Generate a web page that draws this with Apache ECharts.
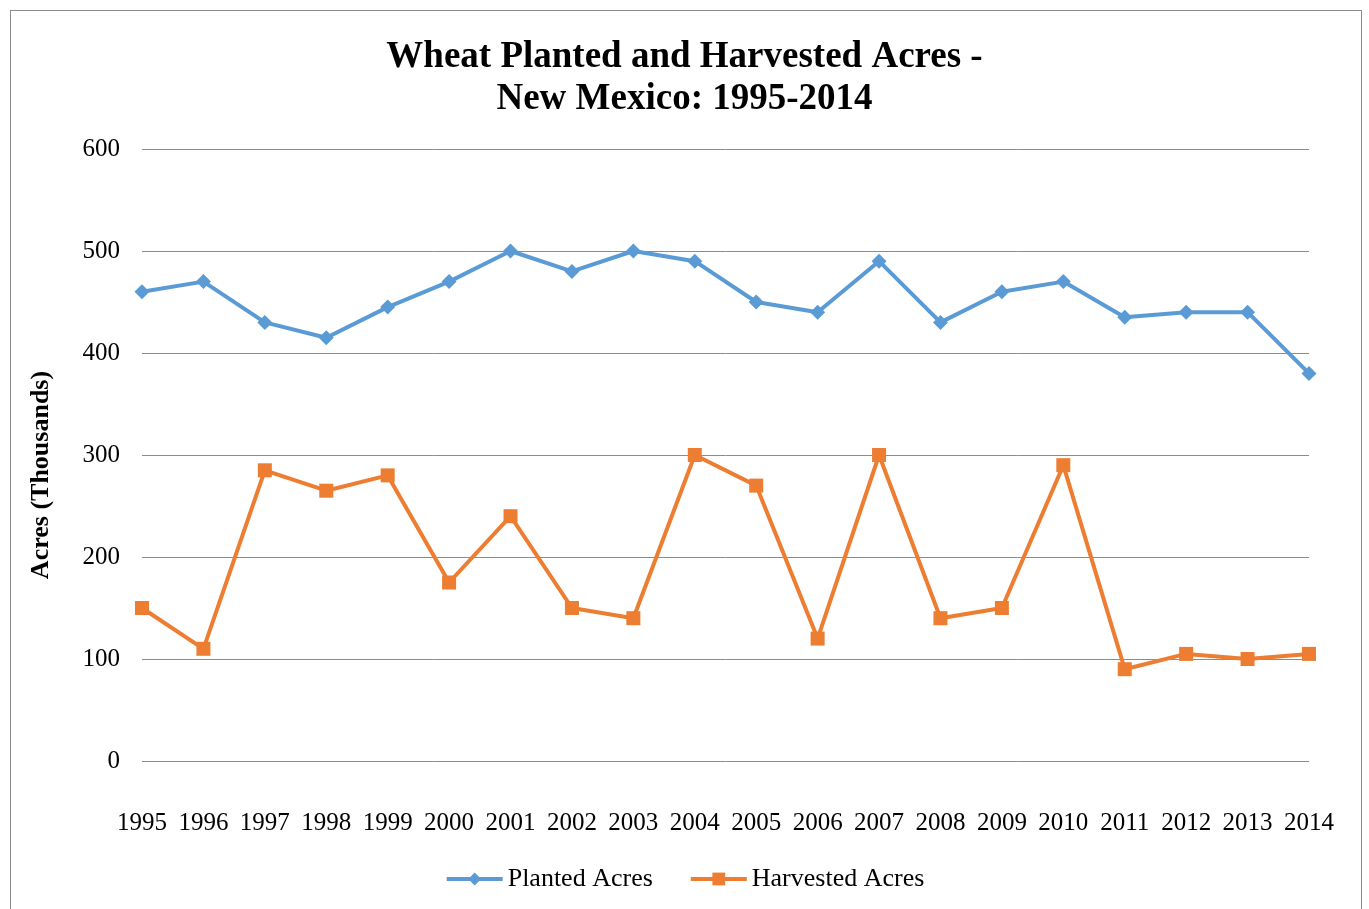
<!DOCTYPE html>
<html>
<head>
<meta charset="utf-8">
<script src="https://cdn.jsdelivr.net/npm/echarts@6/dist/echarts.min.js"></script>
<style>
    html, body { margin: 0; padding: 0; background: #fff; }
    #chart { width: 1369px; height: 909px; }
    .frame {
        position: absolute; left: 10px; top: 10px; width: 1352px; height: 910px;
        border: 1px solid #8c8c8c; box-sizing: border-box; pointer-events: none;
    }
</style>
</head>
<body>
<div id="chart"></div>
<div class="frame"></div>
<script>
const years = ["1995", "1996", "1997", "1998", "1999", "2000", "2001", "2002", "2003", "2004",
    "2005", "2006", "2007", "2008", "2009", "2010", "2011", "2012", "2013", "2014"];
const planted = [460, 470, 430, 415, 445, 470, 500, 480, 500, 490,
    450, 440, 490, 430, 460, 470, 435, 440, 440, 380];
const harvested = [150, 110, 285, 265, 280, 175, 240, 150, 140, 300,
    270, 120, 300, 140, 150, 290, 90, 105, 100, 105];

const font = "'Liberation Serif', 'Times New Roman', serif";

const chart = echarts.init(document.getElementById("chart"));

chart.setOption({
    animation: false,
    title: {
        text: "Wheat Planted and Harvested Acres -\nNew Mexico: 1995-2014",
        left: "center",
        top: 31,
        textStyle: {
            fontFamily: font,
            fontSize: 37,
            fontWeight: "bold",
            color: "#000",
            lineHeight: 42
        }
    },
    legend: {
        bottom: 12,
        left: "center",
        itemWidth: 56,
        itemHeight: 16,
        itemGap: 36,
        lineStyle: { width: 4 },
        textStyle: { fontFamily: font, fontSize: 26, color: "#000" },
        data: ["Planted Acres", "Harvested Acres"]
    },
    grid: {
        left: 142,
        right: 60,
        top: 149,
        bottom: 148
    },
    xAxis: {
        type: "category",
        data: years,
        boundaryGap: false,
        axisLine: { show: false },
        axisTick: { show: false },
        axisLabel: {
            fontFamily: font,
            fontSize: 25,
            color: "#000",
            margin: 50,
            interval: 0
        }
    },
    yAxis: {
        type: "value",
        min: 0,
        max: 600,
        interval: 100,
        name: "Acres (Thousands)",
        nameLocation: "middle",
        nameGap: 88,
        nameTextStyle: {
            fontFamily: font,
            fontSize: 26,
            fontWeight: "bold",
            color: "#000",
            padding: [0, 40, 0, 0]
        },
        axisLine: { show: false },
        axisTick: { show: false },
        axisLabel: {
            fontFamily: font,
            fontSize: 25,
            color: "#000",
            margin: 22
        },
        splitLine: { lineStyle: { color: "#8c8c8c", width: 1 } }
    },
    series: [
        {
            name: "Planted Acres",
            type: "line",
            data: planted,
            symbol: "diamond",
            symbolSize: 15,
            itemStyle: { color: "#5b9bd5" },
            lineStyle: { color: "#5b9bd5", width: 4 }
        },
        {
            name: "Harvested Acres",
            type: "line",
            data: harvested,
            symbol: "rect",
            symbolSize: 14,
            itemStyle: { color: "#ed7d31" },
            lineStyle: { color: "#ed7d31", width: 4 }
        }
    ]
});
</script>
</body>
</html>
